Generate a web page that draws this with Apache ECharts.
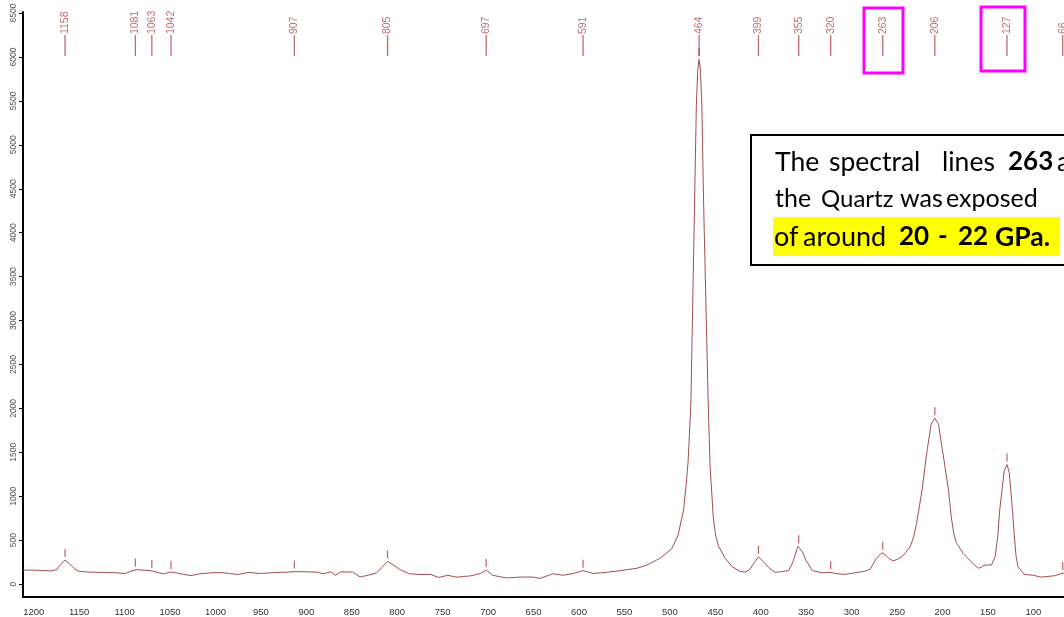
<!DOCTYPE html>
<html><head><meta charset="utf-8">
<script src="https://cdn.jsdelivr.net/npm/echarts@6/dist/echarts.min.js"></script>
<style>html,body{margin:0;padding:0;background:#fff}#c{width:1064px;height:617px}</style>
</head><body><div id="c"></div>
<script>
// Raman shift (cm-1) and intensity
const wavenumbers = [1204,1190,1173,1167,1163,1158,1153,1147,1143,1131,1115,1101,1092,1085,1080,1073,1063,1056,1050,1042,
  1035,1028,1020,1011,999,988,978,969,958,943,928,915,907,895,882,875,867,862,856,843,
  835,826,817,811,805,798,792,781,769,758,749,739,729,722,715,707,703,697,690,675,
  660,646,638,624,613,602,591,580,565,551,532,521,507,494,487,481,478,476,473,471,
  469,467,465.5,464,462.5,461,459,456.5,454,452,448.5,446,443,436,428,419,413,409,404,399,
  394,388,381,375,366,361,356,351,347,340,330,321,314,306,298,291,283,277,270,264,
  260,256,252,247,242,238,233,229,226,220,215,210,206,202,197,191,188,185,182,178,
  175,168,163,158,154,151,144,140,137,135,130,127,124.5,121,119,117,115,112,108,98,
  90,84,75,70,66,64.6];
const intensities = [160,158,150,165,220,273,230,170,145,136,132,128,121,150,164,160,150,130,117,138,
  125,110,97,117,128,132,120,109,132,121,132,136,142,140,136,117,140,101,140,136,
  82,101,128,190,257,215,168,117,109,110,75,100,78,88,92,110,122,160,100,70,
  80,80,65,118,100,120,153,120,134,152,180,217,292,400,557,840,1150,1400,2048,3180,
  4312,5445,5850,5974,5850,5445,4312,3180,2048,1350,764,560,440,300,200,142,138,160,240,311,
  260,190,134,140,153,260,430,370,268,153,130,134,120,110,120,134,145,168,292,357,
  331,290,266,280,311,360,425,540,689,1067,1481,1821,1889,1821,1481,1067,764,560,462,400,
  349,274,220,179,200,217,217,311,550,840,1293,1361,1270,840,550,311,200,160,110,100,
  80,85,95,110,125,120];
// Labelled peaks
const peakPositions = [1158,1081,1063,1042,907,805,697,591,464,399,355,320,263,206,127,66];
const peakHeights   = [273,164,150,138,142,257,160,153,5974,311,430,134,357,1889,1361,125];
// Axis tick labels
const xTickLabels = [1200,1150,1100,1050,1000,950,900,850,800,750,700,650,600,550,500,450,400,350,300,250,200,150,100];
const yTickLabels = [0,500,1000,1500,2000,2500,3000,3500,4000,4500,5000,5500,6000,6500];

const spectrum = wavenumbers.map((w, i) => [w, intensities[i]]);
const MARKER_LEVEL = 6130;
const markerColor = '#b0474c';

const chart = echarts.init(document.getElementById('c'), null, {renderer: 'canvas'});

function word(x, y, text, size, bold) {
  return {type: 'text', x: x, y: y, z: 20,
    style: {text: text, fill: '#000', font: (bold ? 'bold ' : '') + size + 'px Lato', verticalAlign: 'middle', align: 'left'}};
}

chart.setOption({
  animation: false,
  backgroundColor: '#fff',
  grid: {left: 23, right: 0, top: 12, bottom: 17, containLabel: false},
  xAxis: [
    { // data axis
      type: 'value', min: 64.6, max: 1204, inverse: true, show: false
    },
    { // display axis
      type: 'value', min: 66.3, max: 1211.8, inverse: true, position: 'bottom',
      axisLine: {show: true, onZero: false, lineStyle: {color: '#000', width: 2}},
      axisTick: {show: false, customValues: xTickLabels},
      splitLine: {show: false},
      axisLabel: {customValues: xTickLabels, formatter: v => String(v), color: '#333', fontSize: 9.5, margin: 10, fontFamily: 'Liberation Sans'}
    }
  ],
  yAxis: {
    type: 'value', min: -147, max: 6512,
    axisLine: {show: true, onZero: false, lineStyle: {color: '#000', width: 2}},
    axisTick: {show: true, length: 4, customValues: yTickLabels, lineStyle: {color: '#000'}},
    splitLine: {show: false},
    axisLabel: {customValues: yTickLabels, formatter: v => String(v), rotate: 90, color: '#555', fontSize: 8.5, margin: 5, fontFamily: 'Liberation Sans'}
  },
  series: [
    {
      type: 'line', xAxisIndex: 0, data: spectrum, showSymbol: false, smooth: false,
      lineStyle: {color: '#a24d4f', width: 1}, silent: true
    },
    { // small ticks above each labelled peak
      type: 'scatter', xAxisIndex: 0, silent: true,
      data: peakPositions.map((p, i) => [p, peakHeights[i]]),
      symbol: 'rect', symbolSize: [1.3, 8], symbolOffset: [0, -7],
      itemStyle: {color: markerColor}
    },
    { // labelled marker lines at top
      type: 'scatter', xAxisIndex: 0, silent: true,
      data: peakPositions.map(p => [p, MARKER_LEVEL]),
      symbol: 'rect', symbolSize: [1.3, 21],
      itemStyle: {color: markerColor},
      label: {show: true, position: 'top', distance: 1, rotate: 90, align: 'left', verticalAlign: 'middle',
        formatter: d => String(d.value[0]), color: markerColor, fontSize: 10.5, fontFamily: 'Liberation Sans'}
    }
  ],
  graphic: [
    {type: 'rect', z: 10, shape: {x: 864, y: 8, width: 39, height: 65}, style: {fill: 'none', stroke: '#f0f', lineWidth: 3}},
    {type: 'rect', z: 10, shape: {x: 981, y: 7, width: 44, height: 64}, style: {fill: 'none', stroke: '#f0f', lineWidth: 3}},
    {type: 'rect', z: 15, shape: {x: 751, y: 135, width: 400, height: 130}, style: {fill: '#fff', stroke: '#000', lineWidth: 2}},
    {type: 'rect', z: 16, shape: {x: 773, y: 217, width: 287, height: 39}, style: {fill: '#ffff00'}},
    word(775, 162, 'The', 26.5), word(829, 162, 'spectral', 26.5), word(942, 162, 'lines', 26.5), word(1008, 162, '263', 26, true), word(1057, 162, 'and', 26.5),
    word(775, 199, 'the', 25), word(821, 199, 'Quartz', 24), word(900, 199, 'was', 25), word(946, 199, 'exposed', 25),
    word(774, 237, 'of', 27), word(803, 237, 'around', 27),
    word(899, 237, '20', 26, true), word(938, 237, '-', 26, true), word(958, 237, '22', 26, true), word(995, 237, 'GPa.', 26.5, true)
  ]
});
</script></body></html>
